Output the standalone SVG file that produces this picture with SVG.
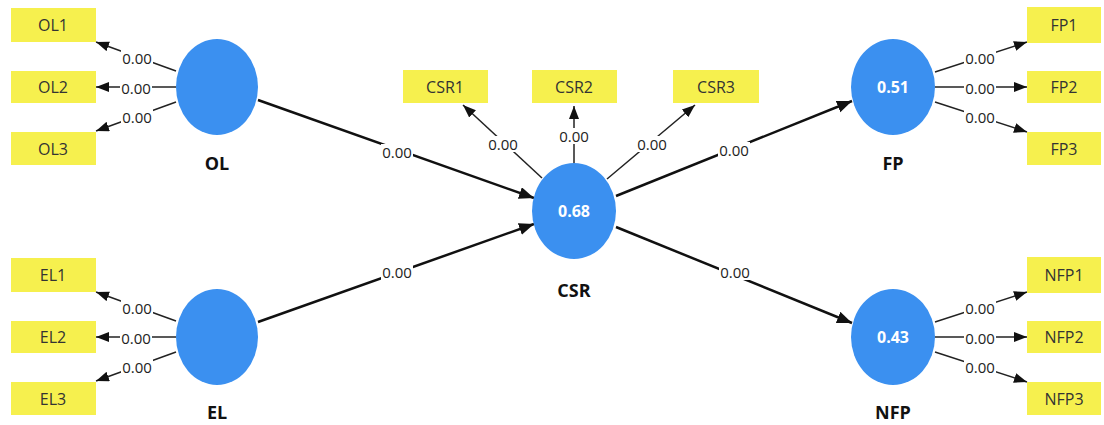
<svg xmlns="http://www.w3.org/2000/svg" width="1104" height="425" viewBox="0 0 1104 425">
<defs>
<style>
.box{fill:#f6f04e}
.bt{font-family:"Open Sans","Noto Sans",sans-serif;font-size:16px;fill:#333;text-anchor:middle;dominant-baseline:central}
.lv{fill:#3b90f0}
.lvt{font-family:"Open Sans","Noto Sans",sans-serif;font-size:16px;font-weight:bold;fill:#fff;text-anchor:middle;dominant-baseline:central}
.nm{font-family:"Open Sans","Noto Sans",sans-serif;font-size:18px;font-weight:bold;fill:#111;text-anchor:middle;dominant-baseline:central}
.ld{stroke:#222;stroke-width:1.5;fill:none;marker-end:url(#ah)}
.pt{stroke:#111;stroke-width:2.5;fill:none;marker-end:url(#ah2)}
.lb{font-family:"Open Sans","Noto Sans",sans-serif;font-size:15px;fill:#222;text-anchor:middle;dominant-baseline:central}
.bg{fill:#fff}
</style>
<marker id="ah" markerUnits="userSpaceOnUse" markerWidth="14" markerHeight="12" refX="13" refY="5" orient="auto"><path d="M0,0 L13,5 L0,10 z" fill="#111"/></marker>
<marker id="ah2" markerUnits="userSpaceOnUse" markerWidth="16" markerHeight="14" refX="15" refY="6" orient="auto"><path d="M0,0 L15,6 L0,12 z" fill="#111"/></marker>
<rect id="lbg" class="bg" x="-16" y="-8" width="32" height="16"/>
</defs>
<rect width="1104" height="425" fill="#fff"/>
<g id="connectors">
<line class="pt" x1="258" y1="100" x2="534" y2="198"/>
<line class="pt" x1="258" y1="322" x2="534" y2="224"/>
<line class="pt" x1="616" y1="196" x2="852" y2="101"/>
<line class="pt" x1="616" y1="227" x2="852" y2="323"/>
<line class="ld" x1="176" y1="71" x2="96" y2="42"/>
<line class="ld" x1="176" y1="87" x2="96" y2="87"/>
<line class="ld" x1="176" y1="102" x2="96" y2="131"/>
<line class="ld" x1="176" y1="321" x2="96" y2="292"/>
<line class="ld" x1="176" y1="337" x2="96" y2="337"/>
<line class="ld" x1="176" y1="352" x2="96" y2="381"/>
<line class="ld" x1="542" y1="178" x2="463" y2="105"/>
<line class="ld" x1="574" y1="163" x2="574" y2="106"/>
<line class="ld" x1="607" y1="179" x2="695" y2="105"/>
<line class="ld" x1="935" y1="72" x2="1027" y2="42"/>
<line class="ld" x1="935" y1="87" x2="1027" y2="87"/>
<line class="ld" x1="935" y1="102" x2="1027" y2="132"/>
<line class="ld" x1="935" y1="322" x2="1027" y2="292"/>
<line class="ld" x1="935" y1="337" x2="1027" y2="337"/>
<line class="ld" x1="935" y1="352" x2="1027" y2="382"/>
<use href="#lbg" x="397" y="152"/><text class="lb" x="397" y="152">0.00</text>
<use href="#lbg" x="397" y="272"/><text class="lb" x="397" y="272">0.00</text>
<use href="#lbg" x="734" y="150"/><text class="lb" x="734" y="150">0.00</text>
<use href="#lbg" x="735" y="272"/><text class="lb" x="735" y="272">0.00</text>
<use href="#lbg" x="137" y="58"/><text class="lb" x="137" y="58">0.00</text>
<use href="#lbg" x="136" y="88"/><text class="lb" x="136" y="88">0.00</text>
<use href="#lbg" x="137" y="117"/><text class="lb" x="137" y="117">0.00</text>
<use href="#lbg" x="137" y="308"/><text class="lb" x="137" y="308">0.00</text>
<use href="#lbg" x="136" y="338"/><text class="lb" x="136" y="338">0.00</text>
<use href="#lbg" x="137" y="367"/><text class="lb" x="137" y="367">0.00</text>
<use href="#lbg" x="503" y="144"/><text class="lb" x="503" y="144">0.00</text>
<use href="#lbg" x="574" y="136"/><text class="lb" x="574" y="136">0.00</text>
<use href="#lbg" x="652" y="144"/><text class="lb" x="652" y="144">0.00</text>
<use href="#lbg" x="980" y="58"/><text class="lb" x="980" y="58">0.00</text>
<use href="#lbg" x="980" y="88"/><text class="lb" x="980" y="88">0.00</text>
<use href="#lbg" x="980" y="117"/><text class="lb" x="980" y="117">0.00</text>
<use href="#lbg" x="980" y="308"/><text class="lb" x="980" y="308">0.00</text>
<use href="#lbg" x="980" y="338"/><text class="lb" x="980" y="338">0.00</text>
<use href="#lbg" x="980" y="367"/><text class="lb" x="980" y="367">0.00</text>
</g>
<g id="OL"><ellipse class="lv" cx="217" cy="87" rx="41" ry="48"/><text class="nm" x="217" y="163">OL</text></g>
<g id="EL"><ellipse class="lv" cx="217" cy="337" rx="41" ry="48"/><text class="nm" x="217" y="412">EL</text></g>
<g id="CSR"><ellipse class="lv" cx="574" cy="211" rx="42" ry="48"/><text class="lvt" x="574" y="211">0.68</text><text class="nm" x="574" y="290">CSR</text></g>
<g id="FP"><ellipse class="lv" cx="893" cy="87" rx="42" ry="48"/><text class="lvt" x="893" y="87">0.51</text><text class="nm" x="893" y="163">FP</text></g>
<g id="NFP"><ellipse class="lv" cx="893" cy="337" rx="42" ry="48"/><text class="lvt" x="893" y="337">0.43</text><text class="nm" x="893" y="412">NFP</text></g>
<g id="OL1"><rect class="box" x="11" y="8" width="85" height="34"/><text class="bt" x="53" y="25">OL1</text></g>
<g id="OL2"><rect class="box" x="11" y="71" width="85" height="32"/><text class="bt" x="53" y="87">OL2</text></g>
<g id="OL3"><rect class="box" x="11" y="132" width="85" height="33"/><text class="bt" x="53" y="149">OL3</text></g>
<g id="EL1"><rect class="box" x="11" y="258" width="85" height="34"/><text class="bt" x="53" y="275">EL1</text></g>
<g id="EL2"><rect class="box" x="11" y="321" width="85" height="32"/><text class="bt" x="53" y="337">EL2</text></g>
<g id="EL3"><rect class="box" x="11" y="382" width="85" height="33"/><text class="bt" x="53" y="399">EL3</text></g>
<g id="CSR1"><rect class="box" x="403" y="70" width="85" height="33"/><text class="bt" x="445" y="87">CSR1</text></g>
<g id="CSR2"><rect class="box" x="532" y="70" width="85" height="33"/><text class="bt" x="574" y="87">CSR2</text></g>
<g id="CSR3"><rect class="box" x="673" y="70" width="86" height="33"/><text class="bt" x="716" y="87">CSR3</text></g>
<g id="FP1"><rect class="box" x="1027" y="7" width="74" height="36"/><text class="bt" x="1064" y="25">FP1</text></g>
<g id="FP2"><rect class="box" x="1027" y="71" width="74" height="32"/><text class="bt" x="1064" y="87">FP2</text></g>
<g id="FP3"><rect class="box" x="1027" y="132" width="74" height="33"/><text class="bt" x="1064" y="149">FP3</text></g>
<g id="NFP1"><rect class="box" x="1027" y="257" width="74" height="36"/><text class="bt" x="1064" y="275">NFP1</text></g>
<g id="NFP2"><rect class="box" x="1027" y="321" width="74" height="32"/><text class="bt" x="1064" y="337">NFP2</text></g>
<g id="NFP3"><rect class="box" x="1027" y="382" width="74" height="33"/><text class="bt" x="1064" y="399">NFP3</text></g>
</svg>
